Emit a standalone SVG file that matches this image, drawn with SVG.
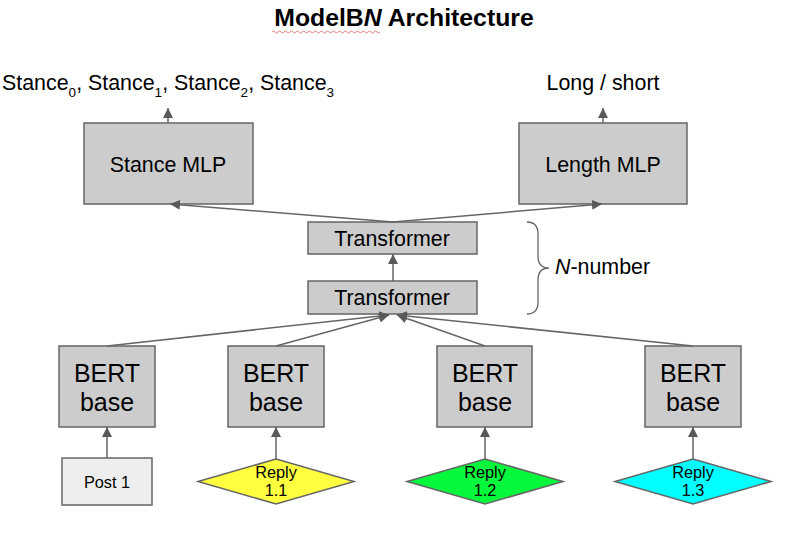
<svg xmlns="http://www.w3.org/2000/svg" width="802" height="536" viewBox="0 0 802 536">
<defs>
<marker id="arr" viewBox="0 0 10 10" refX="10" refY="5" markerWidth="10" markerHeight="10" markerUnits="userSpaceOnUse" orient="auto">
<path d="M0,0 L10,5 L0,10 Z" fill="#595959"/>
</marker>
<style>
text{font-family:"Liberation Sans",Arial,sans-serif;fill:#000}
.box{fill:#cccccc;stroke:#666666;stroke-width:1.5}
.edge{stroke:#666666;stroke-width:1.5;fill:none;marker-end:url(#arr)}
.t20{font-size:21.4px}
.t24{font-size:25px;text-anchor:middle}
.t16{font-size:16.3px;text-anchor:middle}
.mid{text-anchor:middle}
</style>
</defs>
<rect width="802" height="536" fill="#ffffff"/>
<g id="title">
<text x="404" y="26" class="mid" font-size="24.8" font-weight="bold">ModelB<tspan font-style="italic">N</tspan> Architecture</text>
<path d="M272,32 q1.5,-2 3,0 t3,0 t3,0 t3,0 t3,0 t3,0 t3,0 t3,0 t3,0 t3,0 t3,0 t3,0 t3,0 t3,0 t3,0 t3,0 t3,0 t3,0 t3,0 t3,0 t3,0 t3,0 t3,0 t3,0 t3,0 t3,0 t3,0 t3,0 t3,0 t3,0 t3,0 t3,0 t3,0 t3,0 t3,0 t3,0" fill="none" stroke="#e06060" stroke-width="0.8"/>
</g>
<g id="stance-out">
<text x="2" y="90" class="t20">Stance<tspan font-size="13.5" dy="7">0</tspan><tspan dy="-7">, Stance</tspan><tspan font-size="13.5" dy="7">1</tspan><tspan dy="-7">, Stance</tspan><tspan font-size="13.5" dy="7">2</tspan><tspan dy="-7">, Stance</tspan><tspan font-size="13.5" dy="7">3</tspan></text>
</g>
<g id="length-out">
<text x="603" y="90" class="t20 mid">Long / short</text>
</g>
<g id="stance-mlp">
<rect class="box" x="84" y="123" width="169" height="81"/>
<text x="168" y="172" class="t20 mid">Stance MLP</text>
</g>
<g id="length-mlp">
<rect class="box" x="519" y="123" width="168" height="81"/>
<text x="603" y="172" class="t20 mid">Length MLP</text>
</g>
<g id="transformer-top">
<rect class="box" x="308" y="222" width="169" height="32"/>
<text x="392" y="246" class="t20 mid">Transformer</text>
</g>
<g id="transformer-bottom">
<rect class="box" x="308" y="281" width="169" height="33"/>
<text x="392" y="305" class="t20 mid">Transformer</text>
</g>
<g id="n-number">
<path d="M527,222 q11,0 11,12 v22 q0,12 11,12 q-11,0 -11,12 v22 q0,12 -11,12" fill="none" stroke="#666666" stroke-width="1.3"/>
<text x="555" y="274" class="t20"><tspan font-style="italic">N</tspan>-number</text>
</g>
<g id="bert1">
<rect class="box" x="59" y="346" width="96" height="81"/>
<text x="107" y="382" class="t24">BERT</text>
<text x="107" y="411" class="t24">base</text>
</g>
<g id="bert2">
<rect class="box" x="228" y="346" width="96" height="81"/>
<text x="276" y="382" class="t24">BERT</text>
<text x="276" y="411" class="t24">base</text>
</g>
<g id="bert3">
<rect class="box" x="437" y="346" width="95" height="81"/>
<text x="485" y="382" class="t24">BERT</text>
<text x="485" y="411" class="t24">base</text>
</g>
<g id="bert4">
<rect class="box" x="645" y="346" width="96" height="81"/>
<text x="693" y="382" class="t24">BERT</text>
<text x="693" y="411" class="t24">base</text>
</g>
<g id="post1">
<rect x="62" y="458" width="90" height="47" fill="#eeeeee" stroke="#666666" stroke-width="1.5"/>
<text x="107" y="488" class="t16">Post 1</text>
</g>
<g id="reply11">
<polygon points="276,459 354,481.5 276,504 198,481.5" fill="#ffff40" stroke="#666666" stroke-width="1.5"/>
<text x="276" y="478" class="t16">Reply</text>
<text x="276" y="496" class="t16">1.1</text>
</g>
<g id="reply12">
<polygon points="485,459 563,481.5 485,504 407,481.5" fill="#05f83c" stroke="#666666" stroke-width="1.5"/>
<text x="485" y="478" class="t16">Reply</text>
<text x="485" y="496" class="t16">1.2</text>
</g>
<g id="reply13">
<polygon points="693,459 771,481.5 693,504 615,481.5" fill="#00ffff" stroke="#666666" stroke-width="1.5"/>
<text x="693" y="478" class="t16">Reply</text>
<text x="693" y="496" class="t16">1.3</text>
</g>
<g id="connectors">
<line class="edge" x1="168" y1="123" x2="168" y2="108"/>
<line class="edge" x1="603" y1="123" x2="603" y2="108"/>
<line class="edge" x1="393" y1="222" x2="170" y2="204"/>
<line class="edge" x1="393" y1="222" x2="602" y2="204"/>
<line class="edge" x1="393" y1="281" x2="393" y2="254"/>
<line class="edge" x1="107" y1="346" x2="389" y2="315"/>
<line class="edge" x1="276" y1="346" x2="389" y2="315"/>
<line class="edge" x1="485" y1="346" x2="397" y2="315"/>
<line class="edge" x1="693" y1="346" x2="397" y2="315"/>
<line class="edge" x1="107" y1="458" x2="107" y2="427"/>
<line class="edge" x1="276" y1="459" x2="276" y2="427"/>
<line class="edge" x1="485" y1="459" x2="485" y2="427"/>
<line class="edge" x1="693" y1="459" x2="693" y2="427"/>
</g>
</svg>
